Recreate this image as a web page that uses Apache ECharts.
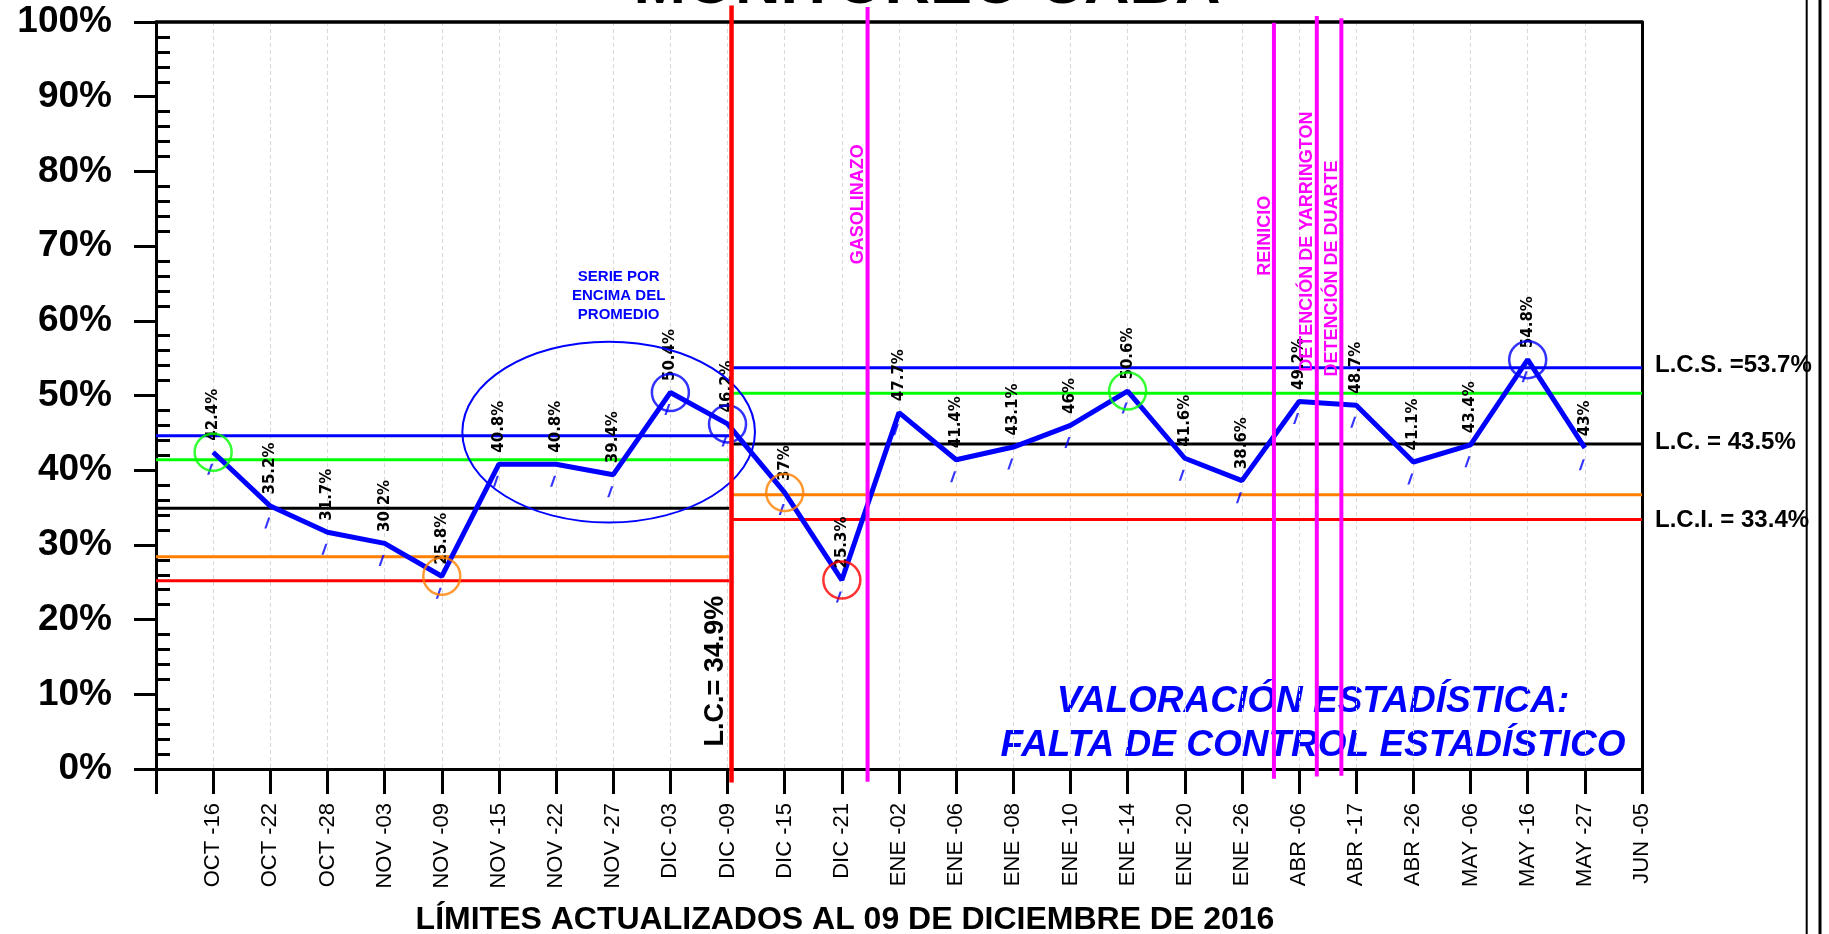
<!DOCTYPE html>
<html>
<head>
<meta charset="utf-8">
<script src="https://cdn.jsdelivr.net/npm/echarts@6.0.0/dist/echarts.min.js"></script>
<style>
html,body{margin:0;padding:0;background:#fff;}
#c{width:1829px;height:934px;}
</style>
</head>
<body>
<div id="c"></div>
<script>
// ---------------- DATA ----------------
const categorias = ['OCT -16','OCT -22','OCT -28','NOV -03','NOV -09','NOV -15','NOV -22','NOV -27','DIC -03','DIC -09','DIC -15','DIC -21','ENE -02','ENE -06','ENE -08','ENE -10','ENE -14','ENE -20','ENE -26','ABR -06','ABR -17','ABR -26','MAY -06','MAY -16','MAY -27','JUN -05'];
const valores = [42.4,35.2,31.7,30.2,25.8,40.8,40.8,39.4,50.4,46.2,37,25.3,47.7,41.4,43.1,46,50.6,41.6,38.6,49.2,48.7,41.1,43.4,54.8,43];
const etiquetasY = ['0%','10%','20%','30%','40%','50%','60%','70%','80%','90%','100%'];
// control limits: [L.C.S., +2 sigma, L.C., -2 sigma, L.C.I.]
const limitesAntes = [44.6, 41.4, 34.9, 28.4, 25.2];
const limitesDespues = [53.7, 50.3, 43.5, 36.7, 33.4];
const corteLimites = 10.07;           // limits updated at DIC -09
const eventos = ['GASOLINAZO','REINICIO','DETENCIÓN DE YARRINGTON','DETENCIÓN DE DUARTE'];
const eventosX = [12.45, 19.56, 20.31, 20.74];
const circulosVerde = ['OCT -16','ENE -14'];
const circulosNaranja = ['NOV -09','DIC -15'];
const circulosRojo = ['DIC -21'];
const circulosAzul = ['DIC -03','DIC -09','MAY -16'];
const serieEncima = ['NOV -15','DIC -03'];

// ---------------- CHART ----------------
const AZUL='#0000FF', VERDE='#00FF00', NEGRO='#000000', NARANJA='#FF8000', ROJO='#FF0000', MAGENTA='#FF00FF';
const coloresLimites=[AZUL,VERDE,NEGRO,NARANJA,ROJO];
const FONT='"Liberation Sans", Arial, sans-serif';
const xMax = categorias.length;

const chart = echarts.init(document.getElementById('c'), null, {renderer:'canvas', width:1829, height:934});

const series = [];
limitesAntes.forEach((v,i)=>{
  series.push({type:'line', silent:true, symbol:'none', z:2, lineStyle:{color:coloresLimites[i], width:3},
    data:[[0,v],[corteLimites-0.04,v]]});
});
limitesDespues.forEach((v,i)=>{
  series.push({type:'line', silent:true, symbol:'none', z:2, lineStyle:{color:coloresLimites[i], width:3},
    data:[[corteLimites,v],[xMax,v]]});
});

// main series
series.push({type:'line', z:3, silent:true,
  data: valores.map((v,i)=>[i+1,v]),
  symbol:'circle', symbolSize:1, showSymbol:true,
  itemStyle:{color:AZUL}, lineStyle:{color:AZUL, width:5},
  label:{show:true, position:'top', distance:11, rotate:90, align:'left', verticalAlign:'middle',
    formatter:p=>p.value[1]+'%', fontFamily:'DejaVu Sans', fontWeight:'bold', fontSize:15, color:'#000'}
});

// small slanted dashes under each point
series.push({type:'scatter', z:3, silent:true,
  data: valores.map((v,i)=>[i+1,v]),
  symbol:'path://M6,0 L9.5,0 L3.5,20 L0,20 Z', symbolSize:[6,11], symbolOffset:[-3,17],
  itemStyle:{color:AZUL}
});

function circulos(lista,color){
  return {type:'scatter', z:5, silent:true, symbol:'circle', symbolSize:37,
    itemStyle:{color:'rgba(0,0,0,0)', borderColor:color, borderWidth:2.5},
    data: lista.map(c=>{const i=categorias.indexOf(c); return [i+1, valores[i]];})};
}
series.push(circulos(circulosVerde,VERDE));
series.push(circulos(circulosNaranja,NARANJA));
series.push(circulos(circulosRojo,ROJO));
series.push(circulos(circulosAzul,AZUL));

// big ellipse around the run above the mean
const iIni = categorias.indexOf(serieEncima[0])+1, iFin = categorias.indexOf(serieEncima[1])+1;
series.push({type:'custom', z:5, silent:true, data:[[ (iIni+iFin)/2 + 0.42, 45.1 ]],
  renderItem:(params,api)=>{
    const c=api.coord([api.value(0),api.value(1)]);
    const s=api.size([2.56,12.1]);
    const top=c[1]-s[1];
    return {type:'group', children:[
      {type:'ellipse', shape:{cx:c[0],cy:c[1],rx:s[0],ry:s[1]}, style:{fill:'none', stroke:AZUL, lineWidth:2}},
      {type:'text', x:c[0]+10, y:top-46, style:{text:'SERIE POR\nENCIMA DEL\nPROMEDIO', fill:AZUL,
        font:'bold 15px '+FONT, align:'center', verticalAlign:'middle', lineHeight:19}}
    ]};
  }
});

// event lines
const evTop=[102,99.9,100.8,100.5], evBottom=[-1.7,-1.3,-1.0,-0.9], evTextY=[75.6,71.4,70.6,67.0];
series.push({type:'custom', z:6, silent:true, data: eventosX.map((x,i)=>[x,i]),
  renderItem:(params,api)=>{
    const x=api.value(0), i=params.dataIndex;
    const p1=api.coord([x, evTop[i]]), p2=api.coord([x, evBottom[i]]);
    const t=api.coord([x, evTextY[i]]);
    return {type:'group', children:[
      {type:'line', shape:{x1:p1[0],y1:p1[1],x2:p2[0],y2:p2[1]}, style:{stroke:MAGENTA, lineWidth:4}},
      {type:'text', x:t[0]-9.3, y:t[1], rotation:Math.PI/2,
        style:{text:eventos[i], fill:MAGENTA, font:'bold 18px '+FONT, align:'center', verticalAlign:'middle'}}
    ]};
  }
});

// red vertical line where limits change + annotations
series.push({type:'custom', z:6, silent:true, data:[[corteLimites,0]],
  renderItem:(params,api)=>{
    const x=api.value(0);
    const p1=api.coord([x,102.2]), p2=api.coord([x,-1.8]);
    const t=api.coord([x,13.1]);
    const r=api.coord([xMax,0])[0]+13;
    const nombres=['L.C.S. =','L.C. = ','L.C.I. = '];
    const vals=[limitesDespues[0],limitesDespues[2],limitesDespues[4]];
    const dy=[-2,-2,1];
    const children=[
      {type:'line', shape:{x1:p1[0],y1:p1[1],x2:p2[0],y2:p2[1]}, style:{stroke:ROJO, lineWidth:4.5}},
      {type:'text', x:t[0]-15.6, y:t[1], rotation:Math.PI/2,
        style:{text:'L.C.= '+limitesAntes[2]+'%', fill:'#000', font:'bold 27px '+FONT, align:'center', verticalAlign:'middle'}}
    ];
    vals.forEach((v,k)=>{
      const py=api.coord([xMax,v])[1]+dy[k];
      children.push({type:'text', x:r, y:py, style:{text:nombres[k]+v+'%', fill:'#000', font:'bold 24px '+FONT, align:'left', verticalAlign:'middle'}});
    });
    return {type:'group', children};
  }
});

const minorTicks=[];
for(let v=2; v<100; v+=2){ if(v%10!==0) minorTicks.push(v); }

chart.setOption({
  animation:false,
  backgroundColor:'#fff',
  grid:{left:156, right:187, top:22, bottom:165, show:false, outerBoundsMode:'none', containLabel:false},
  xAxis:[{type:'value', min:0, max:xMax, interval:1, position:'bottom',
    axisLine:{show:true, onZero:false, lineStyle:{color:'#000', width:3}},
    axisTick:{show:true, length:25, lineStyle:{color:'#000', width:3}},
    axisLabel:{show:true, rotate:90, margin:34, fontFamily:'"Liberation Sans Narrow", "Liberation Sans", Arial', fontSize:22, color:'#000',
      showMinLabel:true, showMaxLabel:true,
      formatter:v=>{const k=Math.round(v); return k>=1 ? categorias[k-1] : '';}},
    splitLine:{show:true, lineStyle:{color:'#d9d9d9', type:[4,3], width:1}}
  },{type:'value', min:0, max:xMax, position:'top',
    axisLine:{show:true, onZero:false, lineStyle:{color:'#000', width:3.5}},
    axisTick:{show:false}, axisLabel:{show:false}, splitLine:{show:false}
  }],
  yAxis:[{type:'value', min:0, max:100, interval:10, position:'left',
    axisLine:{show:true, onZero:false, lineStyle:{color:'#000', width:3}},
    axisTick:{show:true, length:22, lineStyle:{color:'#000', width:3}},
    axisLabel:{margin:44, formatter:v=>etiquetasY[Math.round(v/10)], fontFamily:FONT, fontWeight:'bold', fontSize:37, color:'#000'},
    splitLine:{show:false}
  },{type:'value', min:0, max:100, interval:2, position:'left', offset:0,
    axisLine:{show:false},
    axisTick:{show:true, inside:true, length:14, lineStyle:{color:'#000', width:3}, customValues:minorTicks},
    axisLabel:{show:false}, splitLine:{show:false}
  },{type:'value', min:0, max:100, position:'right', offset:0,
    axisLine:{show:true, onZero:false, lineStyle:{color:'#000', width:3}},
    axisTick:{show:false}, axisLabel:{show:false}, splitLine:{show:false}
  }],
  graphic:[
    {type:'text', x:927, y:-14, style:{text:'MONITOREO CABA', fill:'#000', font:'bold 63px '+FONT, align:'center', verticalAlign:'middle'}},
    {type:'text', x:845, y:920, style:{text:'LÍMITES ACTUALIZADOS AL 09 DE DICIEMBRE DE 2016', fill:'#000', font:'bold 32px '+FONT, align:'center', verticalAlign:'middle'}},
    {type:'text', x:1313, y:724, style:{text:'VALORACIÓN ESTADÍSTICA:\nFALTA DE CONTROL ESTADÍSTICO', fill:AZUL, font:'italic bold 37px '+FONT, align:'center', verticalAlign:'middle', lineHeight:44}},
    {type:'rect', shape:{x:1805.7, y:0, width:2, height:934}, style:{fill:'#000'}},
    {type:'rect', shape:{x:1818.5, y:0, width:3, height:934}, style:{fill:'#000'}}
  ],
  series
});
</script>
</body>
</html>
